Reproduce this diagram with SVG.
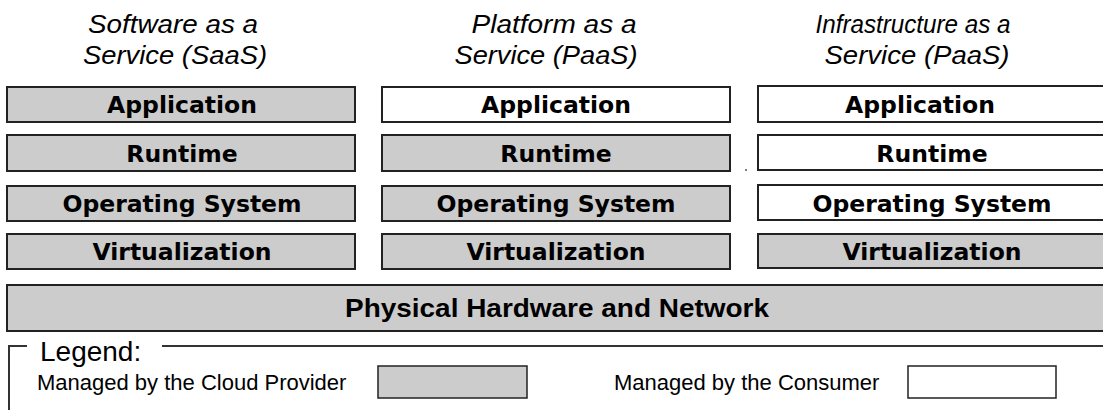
<svg xmlns="http://www.w3.org/2000/svg" width="1103" height="410" viewBox="0 0 1103 410">
<style>
.title{font-family:"Liberation Sans",Arial,sans-serif;font-style:italic;font-size:26px;fill:#000;text-anchor:middle}
.box{stroke:#222;stroke-width:2}
.g{fill:#cccccc}
.w{fill:#ffffff}
.lbl{font-family:"DejaVu Sans",Verdana,sans-serif;font-weight:bold;font-size:23.5px;fill:#000;text-anchor:middle}
.hw{font-family:"Liberation Sans",Arial,sans-serif;font-weight:bold;font-size:25px;fill:#000;text-anchor:middle}
.leg{font-family:"Liberation Sans",Arial,sans-serif;font-size:22px;fill:#000}
.legt{font-family:"Liberation Sans",Arial,sans-serif;font-size:28px;fill:#000}
.line{stroke:#333;stroke-width:2;fill:none}
</style>
<g id="titles">
<text class="title" x="173" y="33" textLength="170" lengthAdjust="spacingAndGlyphs">Software as a</text>
<text class="title" x="175" y="64" textLength="184" lengthAdjust="spacingAndGlyphs">Service (SaaS)</text>
<text class="title" x="554" y="33" textLength="165" lengthAdjust="spacingAndGlyphs">Platform as a</text>
<text class="title" x="546" y="64" textLength="183" lengthAdjust="spacingAndGlyphs">Service (PaaS)</text>
<text class="title" x="913" y="33" textLength="195" lengthAdjust="spacingAndGlyphs">Infrastructure as a</text>
<text class="title" x="917" y="64" textLength="185" lengthAdjust="spacingAndGlyphs">Service (PaaS)</text>
</g>
<g id="saas-application"><rect class="box g" x="7" y="87" width="348" height="35"/><text class="lbl" x="182" y="113">Application</text></g>
<g id="saas-runtime"><rect class="box g" x="7" y="135" width="348" height="36"/><text class="lbl" x="182" y="162">Runtime</text></g>
<g id="saas-os"><rect class="box g" x="7" y="186" width="348" height="35"/><text class="lbl" x="182" y="212">Operating System</text></g>
<g id="saas-virtualization"><rect class="box g" x="7" y="234" width="348" height="35"/><text class="lbl" x="182" y="260">Virtualization</text></g>
<g id="paas-application"><rect class="box w" x="382" y="87" width="348" height="35"/><text class="lbl" x="556" y="113">Application</text></g>
<g id="paas-runtime"><rect class="box g" x="382" y="135" width="348" height="36"/><text class="lbl" x="556" y="162">Runtime</text></g>
<g id="paas-os"><rect class="box g" x="382" y="186" width="348" height="35"/><text class="lbl" x="556" y="212">Operating System</text></g>
<g id="paas-virtualization"><rect class="box g" x="382" y="234" width="348" height="35"/><text class="lbl" x="556" y="260">Virtualization</text></g>
<g id="iaas-application"><rect class="box w" x="758" y="86" width="352" height="36"/><text class="lbl" x="920" y="113">Application</text></g>
<g id="iaas-runtime"><rect class="box w" x="758" y="135" width="352" height="35"/><text class="lbl" x="932" y="162">Runtime</text></g>
<g id="iaas-os"><rect class="box w" x="758" y="185" width="352" height="35"/><text class="lbl" x="932" y="212">Operating System</text></g>
<g id="iaas-virtualization"><rect class="box g" x="758" y="234" width="352" height="34"/><text class="lbl" x="932" y="260">Virtualization</text></g>
<circle cx="746" cy="170" r="1" fill="#555"/>
<g id="hardware"><rect class="box g" x="7" y="285" width="1105" height="46"/><text class="hw" x="557" y="317" textLength="424" lengthAdjust="spacingAndGlyphs">Physical Hardware and Network</text></g>
<g id="legend">
<path class="line" d="M9 410 V346 H27 M162 346 H1103"/>
<text class="legt" x="40" y="361">Legend:</text>
<text class="leg" x="37" y="390">Managed by the Cloud Provider</text>
<rect class="box g" x="378" y="366" width="149" height="32" style="stroke-width:1.5"/>
<text class="leg" x="614" y="390">Managed by the Consumer</text>
<rect class="box w" x="908" y="366" width="148" height="32" style="stroke-width:1.5"/>
</g>
<g id="connectors"/>
</svg>
